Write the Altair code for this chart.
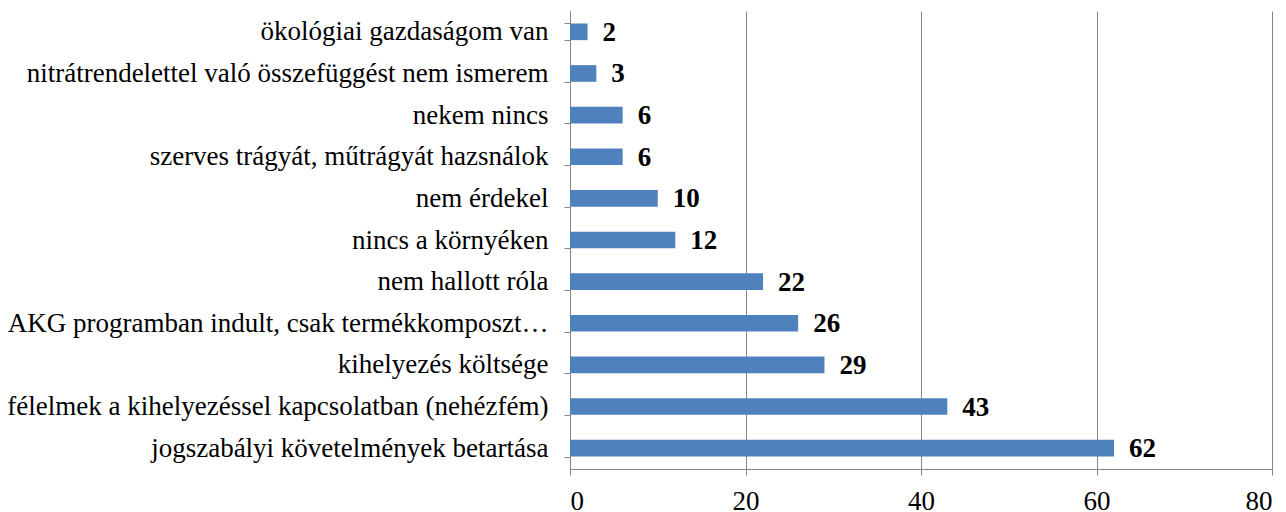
import altair as alt
import pandas as pd

categories = [
    "ökológiai gazdaságom van",
    "nitrátrendelettel való összefüggést nem ismerem",
    "nekem nincs",
    "szerves trágyát, műtrágyát hazsnálok",
    "nem érdekel",
    "nincs a környéken",
    "nem hallott róla",
    "AKG programban indult, csak termékkomposzt…",
    "kihelyezés költsége",
    "félelmek a kihelyezéssel kapcsolatban (nehézfém)",
    "jogszabályi követelmények betartása",
]
values = [2, 3, 6, 6, 10, 12, 22, 26, 29, 43, 62]
x_ticks = [0, 20, 40, 60, 80]

df = pd.DataFrame({"cat": categories, "val": values})

FONT = "Liberation Serif"
FS = 27

y_enc = alt.Y(
    "cat:N",
    sort=categories,
    title=None,
    scale=alt.Scale(paddingInner=0.6, paddingOuter=0.3),
    axis=alt.Axis(
        labelFont=FONT,
        labelFontSize=FS,
        labelColor="#000000",
        labelLimit=1000,
        labelPadding=16,
        tickBand="extent",
        tickSize=6,
        tickColor="#868686",
        domainColor="#868686",
        grid=False,
    ),
)

x_scale = alt.Scale(domain=[0, 80], nice=False)

bars = alt.Chart(df).mark_bar(color="#4F81BD").encode(
    x=alt.X(
        "val:Q",
        scale=x_scale,
        title=None,
        axis=alt.Axis(
            values=x_ticks,
            labelFont=FONT,
            labelFontSize=FS,
            labelColor="#000000",
            labelPadding=13,
            tickSize=6,
            tickColor="#868686",
            domainColor="#868686",
            grid=True,
            gridColor="#868686",
            gridWidth=1,
        ),
    ),
    y=y_enc,
)

labels = alt.Chart(df).mark_text(
    align="left", baseline="middle", dx=15, dy=1, font=FONT, fontSize=FS, fontWeight="bold", color="#000000"
).encode(
    x=alt.X("val:Q", scale=x_scale),
    y=alt.Y("cat:N", sort=categories),
    text="val:Q",
)

chart = (
    alt.layer(bars, labels)
    .properties(
        width=702,
        height=458,
        autosize=alt.AutoSizeParams(type="none"),
        padding={"left": 562, "top": 3, "right": 6, "bottom": 60},
    )
    .configure_view(stroke=None)
)

chart.save("out.html", embed_options={"renderer": "svg", "actions": False})
